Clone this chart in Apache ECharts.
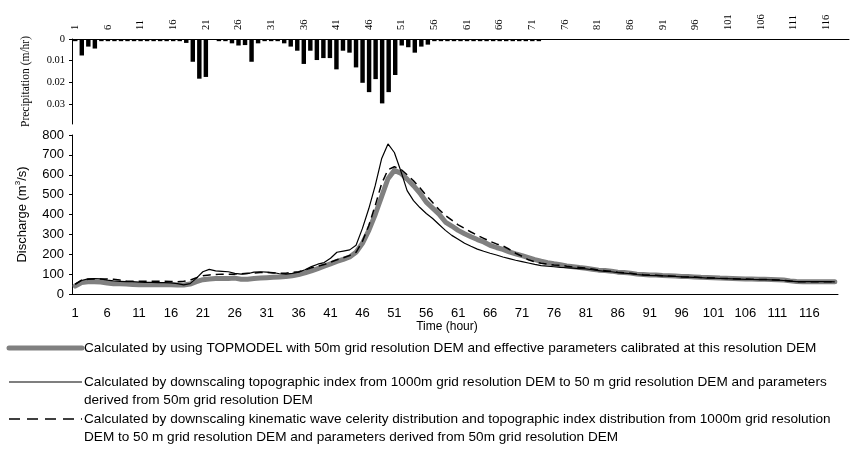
<!DOCTYPE html>
<html>
<head>
<meta charset="utf-8">
<script src="https://cdn.jsdelivr.net/npm/echarts@6/dist/echarts.min.js"></script>
<style>html,body{margin:0;padding:0;background:#fff;}#chart{width:852px;height:450px;}</style>
</head>
<body>
<div id="chart"></div>
<script>
// ---- data ----
const hours = Array.from({length: 120}, (_, i) => String(i + 1));
const precipHours = hours.slice(0, 119);
const precip = [
  0.001,0.0076,0.0035,0.0044,0.001,0.001,0.001,0.001,0.001,0.001,
  0.001,0.001,0.001,0.001,0.001,0.001,0.001,0.0018,0.0105,0.0183,
  0.0175,0,0.001,0.001,0.002,0.003,0.0028,0.0105,0.002,0.001,
  0.001,0.001,0.002,0.0035,0.0054,0.0115,0.0054,0.0097,0.0088,0.0088,
  0.014,0.0054,0.0063,0.0131,0.0202,0.0245,0.0185,0.0297,0.0245,0.0166,
  0.003,0.0038,0.0063,0.0035,0.0026,0.001,0.001,0.001,0.001,0.001,
  0.001,0.001,0.001,0.001,0.001,0.001,0.001,0.001,0.001,0.001,
  0.001,0.001,null,null,null,null,null,null,null,null,
  null,null,null,null,null,null,null,null,null,null,
  null,null,null,null,null,null,null,null,null,null,
  null,null,null,null,null,null,null,null,null,null,
  null,null,null,null,null,null,null,null,null
];
const qTopmodel = [
  40,58,62,62,60,55,52,52,50,48,
  46,46,46,46,46,46,45,45,50,62,
  72,76,78,78,78,80,74,74,78,80,
  82,84,86,88,92,98,106,116,128,140,
  152,164,174,186,210,255,320,400,490,580,
  622,608,578,545,508,462,432,402,362,342,
  320,303,288,274,262,245,234,224,212,202,
  193,183,173,165,158,152,147,141,137,133,
  130,125,120,118,115,110,108,105,100,98,
  96,95,93,92,90,88,88,86,84,83,
  82,80,79,78,77,76,75,74,74,73,
  72,70,66,63,62,62,62,62,62,62
];
const qDownTopo = [
  50,68,76,78,76,70,66,64,62,62,
  60,58,58,57,57,56,52,46,52,80,
  112,124,116,114,112,104,100,102,110,112,
  110,108,102,100,104,110,122,138,150,158,
  180,210,216,222,245,330,430,545,680,755,
  712,620,520,470,435,405,380,350,320,295,
  275,255,240,226,215,205,196,186,178,170,
  163,156,149,143,140,137,134,132,130,128,
  126,122,118,114,112,108,105,102,98,95,
  93,92,91,90,88,86,85,84,82,80,
  80,78,77,76,75,74,73,72,72,71,
  70,68,65,62,62,62,62,62,62,61
];
const qDownKin = [
  48,70,74,76,76,76,74,70,66,64,
  64,64,64,64,64,63,62,64,70,82,
  92,96,98,100,100,100,102,104,106,108,
  108,106,105,105,108,112,120,132,140,148,
  160,172,182,194,210,265,345,445,555,625,
  640,628,600,570,535,495,460,425,395,372,
  348,330,312,295,280,265,252,242,225,205,
  190,172,162,155,150,146,145,140,136,133,
  130,126,120,117,114,110,107,104,100,97,
  95,94,92,91,89,87,86,85,83,82,
  81,79,78,77,76,75,74,73,73,72,
  71,69,65,62,62,62,62,62,62,62
];
const legendTexts = [
  ['Calculated by using TOPMODEL with 50m grid resolution DEM and effective parameters calibrated at this resolution DEM'],
  ['Calculated by downscaling topographic index from 1000m grid resolution DEM to 50 m grid resolution DEM and parameters',
   'derived from 50m grid resolution DEM'],
  ['Calculated by downscaling kinematic wave celerity distribution and topographic index distribution from 1000m grid resolution',
   'DEM to 50 m grid resolution DEM and parameters derived from 50m grid resolution DEM']
];

// ---- chart ----
const chart = echarts.init(document.getElementById('chart'), null, {renderer: 'canvas'});
const serif = 'Liberation Serif';
const sans = 'Liberation Sans';
const black = '#000';

const legendY = [348, 382, 419];
const legendStyles = [
  {stroke: '#808080', lineWidth: 5, lineCap: 'round'},
  {stroke: '#000', lineWidth: 1.2},
  {stroke: '#000', lineWidth: 1.5, lineDash: [11, 7]}
];
const graphics = [];
legendTexts.forEach((lines, k) => {
  graphics.push({type: 'line', shape: {x1: 9, y1: legendY[k], x2: 82, y2: legendY[k]}, style: legendStyles[k], silent: true});
  lines.forEach((t, j) => {
    graphics.push({type: 'text', x: 84, y: legendY[k] + j * 18,
      style: {text: t, font: '13.6px ' + sans, fill: black, verticalAlign: 'middle', align: 'left'}, silent: true});
  });
});

const option = {
  animation: false,
  backgroundColor: '#fff',
  grid: [
    {left: 72, top: 39, width: 777, height: 85},
    {left: 72, top: 135, right: 14, height: 159}
  ],
  xAxis: [
    {
      gridIndex: 0, type: 'category', position: 'top', data: precipHours, boundaryGap: true,
      axisLine: {lineStyle: {color: black, width: 1}},
      axisTick: {interval: 0, length: 3, lineStyle: {color: black}},
      axisLabel: {interval: 4, rotate: 90, margin: 9, fontFamily: serif, fontSize: 10.5, color: black},
      splitLine: {show: false}
    },
    {
      gridIndex: 1, type: 'category', data: hours, boundaryGap: true,
      axisLine: {lineStyle: {color: black, width: 1}},
      axisTick: {interval: 0, length: 3, lineStyle: {color: black}},
      axisLabel: {interval: 4, margin: 13, fontFamily: sans, fontSize: 13, color: black},
      splitLine: {show: false},
      name: 'Time (hour)', nameLocation: 'middle', nameGap: 27,
      nameTextStyle: {fontFamily: sans, fontSize: 12, color: black, padding: [0, 16, 0, 0]}
    }
  ],
  yAxis: [
    {
      gridIndex: 0, type: 'value', inverse: true, min: 0, max: 0.0392, interval: 0.01,
      axisLine: {show: true, lineStyle: {color: black, width: 1}},
      axisTick: {show: true, length: 3, lineStyle: {color: black}},
      axisLabel: {showMaxLabel: false, fontFamily: serif, fontSize: 10.5, color: black, margin: 7},
      splitLine: {show: false},
      name: 'Precipitation (m/hr)', nameLocation: 'middle', nameGap: 40,
      nameTextStyle: {fontFamily: serif, fontSize: 11.5, color: black}
    },
    {
      gridIndex: 1, type: 'value', min: 0, max: 800, interval: 100,
      axisLine: {show: true, lineStyle: {color: black, width: 1}},
      axisTick: {show: true, length: 3, lineStyle: {color: black}},
      axisLabel: {fontFamily: sans, fontSize: 13, color: black, margin: 8},
      splitLine: {show: false},
      name: 'Discharge (m{sup|3}/s)', nameLocation: 'middle', nameGap: 42,
      nameTextStyle: {fontFamily: sans, fontSize: 13, color: black,
        rich: {sup: {fontFamily: sans, fontSize: 8, color: black, verticalAlign: 'bottom', padding: [0, 0, 8, 0]}}}
    }
  ],
  series: [
    {type: 'bar', xAxisIndex: 0, yAxisIndex: 0, data: precip, barCategoryGap: '32%',
      itemStyle: {color: '#000'}, silent: true},
    {type: 'line', xAxisIndex: 1, yAxisIndex: 1, data: qTopmodel, showSymbol: false, symbol: 'none',
      lineStyle: {color: '#808080', width: 5, cap: 'round', join: 'round'}, z: 2},
    {type: 'line', xAxisIndex: 1, yAxisIndex: 1, data: qDownTopo, showSymbol: false, symbol: 'none',
      lineStyle: {color: '#000', width: 1.2}, z: 3},
    {type: 'line', xAxisIndex: 1, yAxisIndex: 1, data: qDownKin, showSymbol: false, symbol: 'none',
      lineStyle: {color: '#000', width: 1.5, type: [8, 5]}, z: 4}
  ],
  graphic: graphics
};
chart.setOption(option);
</script>
</body>
</html>
